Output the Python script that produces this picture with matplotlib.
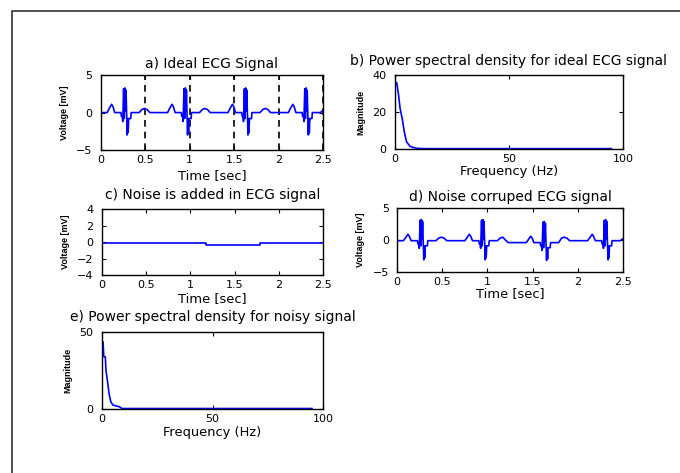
import numpy as np
import matplotlib
matplotlib.use("Agg")
import matplotlib.pyplot as plt
from matplotlib.lines import Line2D

plt.rcParams['font.family'] = ['DejaVu Sans']

# ideal ECG (time in sec, voltage in mV) - 4 beats
t_ecg = [0.0,
         0.07, 0.095, 0.12, 0.135, 0.155,
         0.225, 0.23, 0.24, 0.245, 0.255, 0.262, 0.27, 0.276, 0.282, 0.295, 0.30, 0.306, 0.312, 0.335, 0.34,
         0.43, 0.46, 0.49, 0.52, 0.55,
         0.75, 0.775, 0.80, 0.815, 0.835,
         0.905, 0.91, 0.92, 0.925, 0.935, 0.942, 0.95, 0.956, 0.962, 0.975, 0.98, 0.986, 0.992, 1.015, 1.02,
         1.11, 1.14, 1.17, 1.20, 1.23,
         1.43, 1.455, 1.48, 1.495, 1.515,
         1.585, 1.59, 1.60, 1.605, 1.615, 1.622, 1.63, 1.636, 1.642, 1.655, 1.66, 1.666, 1.672, 1.695, 1.70,
         1.79, 1.82, 1.85, 1.88, 1.91,
         2.11, 2.135, 2.16, 2.175, 2.195,
         2.265, 2.27, 2.28, 2.285, 2.295, 2.302, 2.31, 2.316, 2.322, 2.335, 2.34, 2.346, 2.352, 2.375, 2.38,
         2.47, 2.50]
v_ideal = [0.0,
           0, 0.6, 1.1, 0.8, 0,
           0, -0.5, -0.5, -1.2, 3.2, -0.8, 3.3, 0.2, 3.0, -3.0, -0.8, -2.7, -0.8, -0.8, 0,
           0, 0.4, 0.55, 0.4, 0,
           0, 0.6, 1.1, 0.8, 0,
           0, -0.5, -0.5, -1.2, 3.2, -0.8, 3.3, 0.2, 3.0, -3.0, -0.8, -2.7, -0.8, -0.8, 0,
           0, 0.4, 0.55, 0.4, 0,
           0, 0.6, 1.1, 0.8, 0,
           0, -0.5, -0.5, -1.2, 3.2, -0.8, 3.3, 0.2, 3.0, -3.0, -0.8, -2.7, -0.8, -0.8, 0,
           0, 0.4, 0.55, 0.4, 0,
           0, 0.6, 1.1, 0.8, 0,
           0, -0.5, -0.5, -1.2, 3.2, -0.8, 3.3, 0.2, 3.0, -3.0, -0.8, -2.7, -0.8, -0.8, 0,
           0, 0.3]
# noise corrupted ECG, same time points
v_noisy = [-0.1,
           -0.1, 0.4, 0.9, 0.6, -0.1,
           -0.1, -0.6, -0.6, -1.3, 3.1, -0.9, 3.2, 0.1, 2.9, -3.1, -0.9, -2.8, -0.9, -0.9, -0.1,
           -0.1, 0.3, 0.45, 0.3, -0.1,
           -0.1, 0.4, 0.9, 0.6, -0.1,
           -0.1, -0.6, -0.6, -1.3, 3.1, -0.9, 3.2, 0.1, 2.9, -3.1, -0.9, -2.8, -0.9, -0.9, -0.1,
           -0.1, 0.3, 0.45, 0.0, -0.4,
           -0.4, 0.1, 0.6, 0.3, -0.4,
           -0.4, -0.9, -0.9, -1.6, 2.8, -1.2, 2.9, -0.2, 2.6, -3.2, -1.2, -3.0, -1.2, -1.2, -0.4,
           -0.4, 0.3, 0.45, 0.3, -0.1,
           -0.1, 0.4, 0.9, 0.6, -0.1,
           -0.1, -0.6, -0.6, -1.3, 3.1, -0.9, 3.2, 0.1, 2.9, -3.1, -0.9, -2.8, -0.9, -0.9, -0.1,
           -0.1, 0.2]

# added noise
t_noise = [0, 1.18, 1.18, 1.79, 1.79, 2.5]
v_noise = [-0.15, -0.15, -0.4, -0.4, -0.15, -0.15]

# power spectral densities
f_ideal = [0, 0.7, 1.5, 2.2, 3.2, 4, 5, 6.5, 8, 9.5, 12, 95]
p_ideal = [36, 36, 29.5, 22, 16, 9.6, 4, 1.5, 0.8, 0.4, 0.2, 0.2]
f_noisy = [0.5, 0.8, 1.5, 1.8, 2.5, 3.2, 4.0, 5.0, 8.0, 9.0, 95]
p_noisy = [43.5, 34, 34, 25, 18, 10, 4.7, 2.6, 1.5, 0.4, 0.4]

time_ticks = [0, 0.5, 1, 1.5, 2, 2.5]
time_labels = ['0', '0.5', '1', '1.5', '2', '2.5']

fig = plt.figure(figsize=(6.8, 4.73), dpi=100)

# outer frame of the figure window
fig.add_artist(Line2D([12/680, 12/680, 1.05], [-0.1, 1-11/473, 1-11/473],
                      transform=fig.transFigure, color='#333333', lw=1.2))


def style(ax, title, xlabel, ylabel, tpad, xpad):
    ax.tick_params(direction='in', top=True, right=True, length=3, labelsize=8, width=0.8)
    ax.tick_params(axis='x', pad=3.5)
    ax.tick_params(axis='y', pad=6)
    for s in ax.spines.values():
        s.set_linewidth(1.0)
    ax.set_title(title, fontsize=10, pad=tpad)
    ax.set_xlabel(xlabel, fontsize=9.4, labelpad=xpad)
    ax.set_ylabel(ylabel, fontsize=6.5, labelpad=5, family='Liberation Sans', fontweight='bold')


blue = '#0000ff'

ax1 = fig.add_axes([0.1485, 0.683, 0.3265, 0.158])
ax1.plot(t_ecg, v_ideal, color=blue, lw=1.2)
ax1.set_xlim(0, 2.5)
ax1.set_ylim(-5, 5)
ax1.set_xticks(time_ticks)
ax1.set_xticklabels(time_labels)
ax1.set_yticks([-5, 0, 5])
ax1.grid(axis='x', color='k', linestyle='--', lw=1.2, dashes=(4, 3))
style(ax1, 'a) Ideal ECG Signal', 'Time [sec]', 'Voltage [mV]', 5, 3)

ax2 = fig.add_axes([0.581, 0.685, 0.335, 0.156])
ax2.plot(f_ideal, p_ideal, color=blue, lw=1.2)
ax2.set_xlim(0, 100)
ax2.set_ylim(0, 40)
ax2.set_xticks([0, 50, 100])
ax2.set_yticks([0, 20, 40])
style(ax2, 'b) Power spectral density for ideal ECG signal', 'Frequency (Hz)', 'Magnitude', 7, 0.5)

ax3 = fig.add_axes([0.15, 0.4186, 0.325, 0.1395])
ax3.plot(t_noise, v_noise, color=blue, lw=1.2)
ax3.set_xlim(0, 2.5)
ax3.set_ylim(-4, 4)
ax3.set_xticks(time_ticks)
ax3.set_xticklabels(time_labels)
ax3.set_yticks([-4, -2, 0, 2, 4])
style(ax3, 'c) Noise is added in ECG signal', 'Time [sec]', 'Voltage [mV]', 7, 1.5)

ax4 = fig.add_axes([0.584, 0.425, 0.332, 0.135])
ax4.plot(t_ecg, v_noisy, color=blue, lw=1.2)
ax4.set_xlim(0, 2.5)
ax4.set_ylim(-5, 5)
ax4.set_xticks(time_ticks)
ax4.set_xticklabels(time_labels)
ax4.set_yticks([-5, 0, 5])
style(ax4, 'd) Noise corruped ECG signal', 'Time [sec]', 'Voltage [mV]', 5, 0.5)

ax5 = fig.add_axes([0.15, 0.135, 0.325, 0.163])
ax5.plot(f_noisy, p_noisy, color=blue, lw=1.2)
ax5.set_xlim(0, 100)
ax5.set_ylim(0, 50)
ax5.set_xticks([0, 50, 100])
ax5.set_yticks([0, 50])
style(ax5, 'e) Power spectral density for noisy signal', 'Frequency (Hz)', 'Magnitude', 8, 1.5)

fig.savefig('out.png', dpi=100)
